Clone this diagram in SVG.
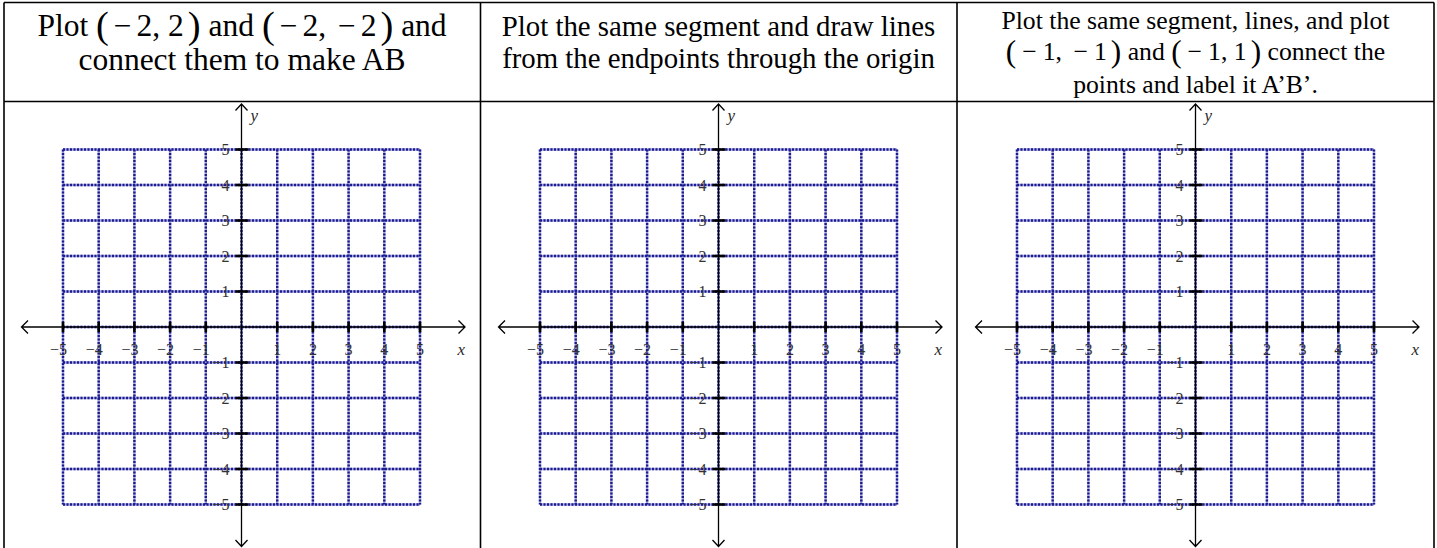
<svg xmlns="http://www.w3.org/2000/svg" xmlns:xlink="http://www.w3.org/1999/xlink" width="1437" height="548" viewBox="0 0 1437 548">
<style>
.hdr{font-family:"Liberation Serif","Times New Roman",serif;fill:#000;text-anchor:middle}
.m{font-family:"Liberation Serif","Times New Roman",serif}
.par{font-size:1.22em}
.tbl{stroke:#000;stroke-width:1.6;fill:none}
.gridA{stroke:#a4a4dc;stroke-width:2.4;fill:none}
.gridB{stroke:#1c1c90;stroke-width:2.4;stroke-dasharray:2 1.5;fill:none}
.axis{stroke:#000;stroke-width:1.3;fill:none}
.tick{stroke:#000;stroke-width:2.6;fill:none}
.lab{font-family:"Liberation Serif","Times New Roman",serif;font-size:16px;fill:#333}
.labm{text-anchor:middle}
.labe{text-anchor:end}
.var{font-family:"Liberation Serif","Times New Roman",serif;font-size:17px;font-style:italic;fill:#2a2a2a}
</style>
<defs>
<g id="plane">
<path class="gridA" d="M-178.5,-177.5V177.5M-142.8,-177.5V177.5M-107.1,-177.5V177.5M-71.4,-177.5V177.5M-35.7,-177.5V177.5M0,-177.5V177.5M35.7,-177.5V177.5M71.4,-177.5V177.5M107.1,-177.5V177.5M142.8,-177.5V177.5M178.5,-177.5V177.5M-178.5,-177.5H178.5M-178.5,-142H178.5M-178.5,-106.5H178.5M-178.5,-71H178.5M-178.5,-35.5H178.5M-178.5,0H178.5M-178.5,35.5H178.5M-178.5,71H178.5M-178.5,106.5H178.5M-178.5,142H178.5M-178.5,177.5H178.5"/>
<path class="gridB" d="M-178.5,-177.5V177.5M-142.8,-177.5V177.5M-107.1,-177.5V177.5M-71.4,-177.5V177.5M-35.7,-177.5V177.5M0,-177.5V177.5M35.7,-177.5V177.5M71.4,-177.5V177.5M107.1,-177.5V177.5M142.8,-177.5V177.5M178.5,-177.5V177.5M-178.5,-177.5H178.5M-178.5,-142H178.5M-178.5,-106.5H178.5M-178.5,-71H178.5M-178.5,-35.5H178.5M-178.5,0H178.5M-178.5,35.5H178.5M-178.5,71H178.5M-178.5,106.5H178.5M-178.5,142H178.5M-178.5,177.5H178.5"/>
<g class="lab labe">
<text x="-12" y="-172">5</text>
<text x="-12" y="-136.5">4</text>
<text x="-12" y="-101">3</text>
<text x="-12" y="-65.5">2</text>
<text x="-12" y="-30">1</text>
<text x="-12" y="41">−1</text>
<text x="-12" y="76.5">−2</text>
<text x="-12" y="112">−3</text>
<text x="-12" y="147.5">−4</text>
<text x="-12" y="183">−5</text>
<text x="-174.5" y="28">−5</text>
<text x="-138.8" y="28">−4</text>
<text x="-103.1" y="28">−3</text>
<text x="-67.4" y="28">−2</text>
<text x="-31.7" y="28">−1</text>
</g>
<g class="lab labm">
<text x="35.7" y="28">1</text>
<text x="71.4" y="28">2</text>
<text x="107.1" y="28">3</text>
<text x="142.8" y="28">4</text>
<text x="178.5" y="28">5</text>
</g>
<path class="axis" d="M0,-223V219.5M-220,0H223.5M-6,-216.5L0,-223L6,-216.5M-6,213L0,219.5L6,213M-213.5,-6.5L-220,0L-213.5,6.5M217,-6.5L223.5,0L217,6.5"/>
<path class="tick" d="M-6,-177.5H7M-6,-142H7M-6,-106.5H7M-6,-71H7M-6,-35.5H7M-6,35.5H7M-6,71H7M-6,106.5H7M-6,142H7M-6,177.5H7M-178.5,-5V5M-142.8,-5V5M-107.1,-5V5M-71.4,-5V5M-35.7,-5V5M35.7,-5V5M71.4,-5V5M107.1,-5V5M142.8,-5V5M178.5,-5V5"/>
<text class="var" x="9" y="-206">y</text>
<text class="var" x="216" y="28">x</text>
</g>
</defs>
<g id="table">
<path class="tbl" d="M4,2.5H1434M4,101.5H1434M4,2.5V548M480.5,2.5V548M957,2.5V548M1434,2.5V548"/>
</g>
<g id="header1">
<text class="hdr" x="242" y="36" font-size="31.5">Plot <tspan class="m par" dy="2">(</tspan><tspan class="m" dy="-2" dx="5">−</tspan><tspan class="m" dx="5">2, 2</tspan><tspan class="m par" dx="4" dy="2">)</tspan><tspan dy="-2"> and </tspan><tspan class="m par" dy="2">(</tspan><tspan class="m" dy="-2" dx="5">−</tspan><tspan class="m" dx="5">2, </tspan><tspan class="m" dx="4">−</tspan><tspan class="m" dx="5">2</tspan><tspan class="m par" dx="4" dy="2">)</tspan><tspan dy="-2"> and</tspan></text>
<text class="hdr" x="242" y="70" font-size="31.5">connect them to make AB</text>
</g>
<g id="header2">
<text class="hdr" x="718.5" y="36" font-size="28.8">Plot the same segment and draw lines</text>
<text class="hdr" x="718.5" y="68" font-size="28.8">from the endpoints through the origin</text>
</g>
<g id="header3">
<text class="hdr" x="1195.5" y="29" font-size="25.7">Plot the same segment, lines, and plot</text>
<text class="hdr" x="1195.5" y="60" font-size="25.7"><tspan class="m par" dy="2">(</tspan><tspan class="m" dy="-2" dx="6">−</tspan><tspan class="m" dx="6">1, </tspan><tspan class="m" dx="5">−</tspan><tspan class="m" dx="6">1</tspan><tspan class="m par" dx="4" dy="2">)</tspan><tspan dy="-2"> and </tspan><tspan class="m par" dy="2">(</tspan><tspan class="m" dy="-2" dx="6">−</tspan><tspan class="m" dx="6">1, 1</tspan><tspan class="m par" dx="4" dy="2">)</tspan><tspan dy="-2"> connect the</tspan></text>
<text class="hdr" x="1195.5" y="93" font-size="25.7">points and label it A’B’.</text>
</g>
<g id="graph1"><use xlink:href="#plane" href="#plane" x="241.5" y="327"/></g>
<g id="graph2"><use xlink:href="#plane" href="#plane" x="718.5" y="327"/></g>
<g id="graph3"><use xlink:href="#plane" href="#plane" x="1195.5" y="327"/></g>
</svg>
